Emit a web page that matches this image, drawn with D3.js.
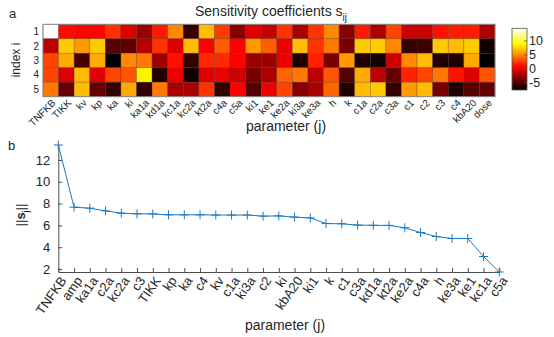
<!DOCTYPE html>
<html>
<head>
<meta charset="utf-8">
<script src="https://cdn.jsdelivr.net/npm/d3@7"></script>
<style>
  body { margin: 0; background: #fff; }
  svg { display: block; }
  text { font-family: "Liberation Sans", Arial, Helvetica, sans-serif; fill: #262626; }
</style>
</head>
<body>
<div id="chart"></div>
<script>
// heatmap columns (panel a)
const params = ['TNFKB', 'TIKK', 'kv', 'kp', 'ka', 'ki', 'ka1a', 'kd1a', 'kc1a', 'kc2a',
  'kt2a', 'c4a', 'c5a', 'ki1', 'ke1', 'ke2a', 'ki3a', 'ke3a', 'h', 'k',
  'c1a', 'c2a', 'c3a', 'c1', 'c2', 'c3', 'c4', 'kbA20', 'dose'];
const rowIndex = [1, 2, 3, 4, 5];

// sensitivity coefficients s_ij, one array per row i
const sRow1 = [14.5, 1.0, 0.8, 0.8, 2.3, -0.4, -2.6, 1.5, 5.1, -5.9, 6.8, 2.6, -3.2, -0.4, -1.2,
  2.3, -2.1, 2.3, 5.1, -3.2, 1.5, -2.1, 2.9, -1.0, -1.0, 1.2, 1.6, 1.6, -2.1];
const sRow2 = [-1.5, 7.3, 5.7, 7.3, -4.8, -4.6, -1.5, 2.3, -0.4, 6.8, 0.7, 3.7, 0.7, 5.7, 3.7,
  0.1, 6.8, 2.3, 4.6, -3.7, 7.3, 7.3, 5.1, -5.9, -5.6, 7.3, 6.8, 7.3, -7.0];
const sRow3 = [2.9, 6.2, -5.4, 6.2, -7.6, 5.1, 4.6, -2.6, 1.2, -5.9, 2.0, 2.0, 0.7, -2.6, -2.6,
  0.1, -6.5, 1.8, -3.7, 5.7, -6.5, -7.0, -1.0, 5.1, 6.8, -6.5, -6.5, 6.2, -7.5];
const sRow4 = [2.9, -0.4, 6.8, -0.4, 2.9, 3.45, 8.6, -6.5, 0.1, -7.0, -0.4, 0.1, -1.0, -3.7, -2.1,
  4.0, 4.6, -1.5, 3.45, -4.8, 6.2, -1.5, -4.3, 1.8, 2.9, 4.6, 1.2, -0.4, 3.45];
const sRow5 = [4.6, -4.3, 6.8, -4.3, -5.9, 6.2, -5.9, 4.6, -2.1, -2.1, 2.3, -5.9, 0.7, -4.8, 0.1,
  2.9, -3.2, -2.1, 4.0, -6.5, 6.8, 7.3, -5.9, 5.7, 6.8, -3.7, -6.5, -4.8, -4.3];
const sRows = [sRow1, sRow2, sRow3, sRow4, sRow5];
const colorLimits = [-7.6, 14.5];
const colorbarTicks = [-5, 0, 5, 10];

// panel b: parameters sorted by norm ||s_j||
const rankedParams = ['TNFKB', 'amp', 'ka1a', 'c2a', 'kc2a', 'c3', 'TIKK', 'kp', 'ka', 'c4',
  'kv', 'c1a', 'ki3a', 'c2', 'ki', 'kbA20', 'ki1', 'k', 'c1', 'c3a',
  'kd1a', 'kt2a', 'ke2a', 'c4a', 'h', 'ke3a', 'ke1', 'kc1a', 'c5a'];
const rankedNorms = [13.37, 7.67, 7.58, 7.33, 7.12, 7.06, 7.05, 6.97, 6.97, 6.97,
  6.95, 6.95, 6.95, 6.85, 6.87, 6.76, 6.69, 6.17, 6.15, 6.03,
  6.01, 6.0, 5.78, 5.35, 4.98, 4.8, 4.8, 3.15, 1.73];
const normTicks = [2, 4, 6, 8, 10, 12];

const W = 554, H = 337;
const axisColor = '#4d4d4d';
const lineColor = '#1a78c2';

const svg = d3.select('#chart').append('svg')
  .attr('width', W)
  .attr('height', H);

// ---------- panel a: heatmap ----------
const xa = d3.scaleBand().domain(params).range([43, 495]);
const ya = d3.scaleBand().domain(rowIndex).range([24.3, 96.7]);

const span = colorLimits[1] - colorLimits[0];
const hot = d3.scaleLinear()
  .domain([colorLimits[0], colorLimits[0] + 0.375 * span, colorLimits[0] + 0.75 * span, colorLimits[1]])
  .range(['#000000', '#ff0000', '#ffff00', '#ffffff'])
  .clamp(true);

const cells = [];
sRows.forEach((row, i) => {
  row.forEach((v, j) => cells.push({ row: rowIndex[i], param: params[j], value: v }));
});

const ga = svg.append('g').attr('class', 'panel-a');

ga.selectAll('rect.cell')
  .data(cells)
  .enter()
  .append('rect')
  .attr('class', 'cell')
  .attr('x', (d) => xa(d.param))
  .attr('y', (d) => ya(d.row))
  .attr('width', xa.bandwidth())
  .attr('height', ya.bandwidth())
  .style('fill', (d) => hot(d.value))
  .style('stroke', 'rgba(70,35,20,0.45)')
  .style('stroke-width', 0.6);

ga.append('rect')
  .attr('x', 43)
  .attr('y', 24.3)
  .attr('width', 452)
  .attr('height', 72.4)
  .style('fill', 'none')
  .style('stroke', '#8a8a8a')
  .style('stroke-width', 1);

// row tick labels
ga.selectAll('text.row')
  .data(rowIndex)
  .enter()
  .append('text')
  .attr('class', 'row')
  .attr('x', 39)
  .attr('y', (d) => ya(d) + ya.bandwidth() / 2)
  .attr('dy', '0.35em')
  .attr('text-anchor', 'end')
  .attr('font-size', 10)
  .text((d) => d);

// column tick labels
ga.selectAll('text.col')
  .data(params)
  .enter()
  .append('text')
  .attr('class', 'col')
  .attr('transform', (d) => `translate(${xa(d) + xa.bandwidth() / 2 + 3},101) rotate(-45)`)
  .attr('dy', '0.35em')
  .attr('text-anchor', 'end')
  .attr('font-size', 10)
  .text((d) => d);

const title = ga.append('text')
  .attr('x', 271)
  .attr('y', 16)
  .attr('text-anchor', 'middle')
  .attr('font-size', 14);
title.append('tspan').text('Sensitivity coefficients s');
title.append('tspan').attr('dy', 5).attr('font-size', 10).text('ij');

ga.append('text')
  .attr('transform', 'translate(20,60) rotate(-90)')
  .attr('text-anchor', 'middle')
  .attr('font-size', 12)
  .text('index i');

ga.append('text')
  .attr('x', 286)
  .attr('y', 131)
  .attr('text-anchor', 'middle')
  .attr('font-size', 14)
  .text('parameter (j)');

svg.append('text')
  .attr('x', 9)
  .attr('y', 18)
  .attr('font-size', 13)
  .text('a');

// colorbar
const defs = svg.append('defs');
const grad = defs.append('linearGradient')
  .attr('id', 'hotGrad')
  .attr('x1', 0).attr('y1', 1)
  .attr('x2', 0).attr('y2', 0);
d3.range(0, 1.0001, 0.05).forEach((t) => {
  grad.append('stop')
    .attr('offset', t)
    .attr('stop-color', hot(colorLimits[0] + t * span));
});

const yc = d3.scaleLinear().domain(colorLimits).range([90, 28.3]);
const gc = svg.append('g').attr('class', 'colorbar');
gc.append('rect')
  .attr('x', 512)
  .attr('y', yc(colorLimits[1]))
  .attr('width', 15)
  .attr('height', yc(colorLimits[0]) - yc(colorLimits[1]))
  .style('fill', 'url(#hotGrad)')
  .style('stroke', '#555')
  .style('stroke-width', 0.8);
gc.selectAll('line.tk')
  .data(colorbarTicks)
  .enter()
  .append('line')
  .attr('x1', 524)
  .attr('x2', 527)
  .attr('y1', (d) => yc(d))
  .attr('y2', (d) => yc(d))
  .style('stroke', '#555')
  .style('stroke-width', 0.8);
gc.selectAll('text')
  .data(colorbarTicks)
  .enter()
  .append('text')
  .attr('x', 529)
  .attr('y', (d) => yc(d))
  .attr('dy', '0.35em')
  .attr('font-size', 12.5)
  .text((d) => d);

// ---------- panel b: norms ----------
const xb = d3.scalePoint().domain(rankedParams).range([58.3, 499.3]);
const yb = d3.scaleLinear().domain(d3.extent(rankedNorms)).range([272, 145]);

const gb = svg.append('g').attr('class', 'panel-b');

const yAxis = gb.append('g')
  .attr('transform', 'translate(58.3,0)')
  .call(d3.axisLeft(yb).tickValues(normTicks).tickSizeInner(-4).tickSizeOuter(0).tickPadding(8));
yAxis.selectAll('text').attr('font-size', 13).style('font-family', null).style('fill', '#262626');

const xAxis = gb.append('g')
  .attr('transform', 'translate(0,272)')
  .call(d3.axisBottom(xb).tickSizeInner(-4).tickSizeOuter(0));
xAxis.selectAll('text').remove();

[yAxis, xAxis].forEach((ax) => {
  ax.attr('font-family', null);
  ax.select('.domain').style('stroke', axisColor);
  ax.selectAll('line').style('stroke', axisColor);
});

gb.selectAll('text.param')
  .data(rankedParams)
  .enter()
  .append('text')
  .attr('class', 'param')
  .attr('transform', (d) => `translate(${xb(d) + 5},278) rotate(-55)`)
  .attr('dy', '0.35em')
  .attr('text-anchor', 'end')
  .attr('font-size', 13)
  .text((d) => d);

const pts = rankedParams.map((p, i) => ({ p: p, v: rankedNorms[i] }));

gb.append('path')
  .datum(pts)
  .attr('d', d3.line().x((d) => xb(d.p)).y((d) => yb(d.v)))
  .style('fill', 'none')
  .style('stroke', lineColor)
  .style('stroke-width', 1);

gb.selectAll('path.mark')
  .data(pts)
  .enter()
  .append('path')
  .attr('class', 'mark')
  .attr('transform', (d) => `translate(${xb(d.p)},${yb(d.v)})`)
  .attr('d', 'M-4.5,0H4.5M0,-4.5V4.5')
  .style('stroke', lineColor)
  .style('stroke-width', 1);

const ylab = gb.append('text')
  .attr('transform', 'translate(25,215) rotate(-90)')
  .attr('text-anchor', 'middle')
  .attr('font-size', 13);
ylab.append('tspan').text('||');
ylab.append('tspan').attr('font-weight', 'bold').text('s');
ylab.append('tspan').attr('dy', 4).attr('font-size', 9).text('j');
ylab.append('tspan').attr('dy', -4).text('||');

gb.append('text')
  .attr('x', 285)
  .attr('y', 330)
  .attr('text-anchor', 'middle')
  .attr('font-size', 14)
  .text('parameter (j)');

svg.append('text')
  .attr('x', 8)
  .attr('y', 150)
  .attr('font-size', 13)
  .text('b');
</script>
</body>
</html>
